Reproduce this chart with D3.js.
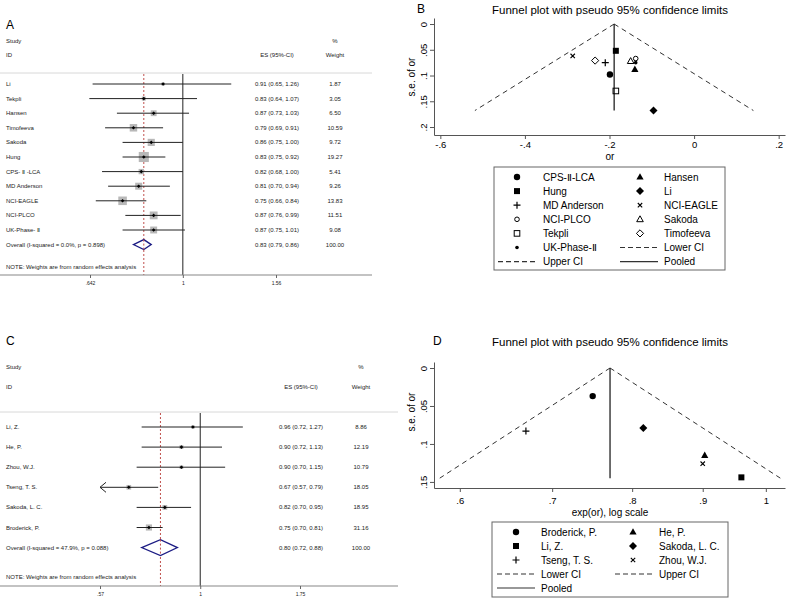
<!DOCTYPE html>
<html><head><meta charset="utf-8">
<script src="https://cdn.jsdelivr.net/npm/d3@7"></script>
<style>body{margin:0;background:#fff} svg{display:block;font-family:"Liberation Sans",Arial,sans-serif}</style>
</head><body><svg id="c" width="787" height="599"></svg>
<script>
// ---------- Panel A (forest) ----------
const studiesA = ["Li","Tekpli","Hansen","Timofeeva","Sakoda","Hung","CPS- Ⅱ -LCA","MD Anderson","NCI-EAGLE","NCI-PLCO","UK-Phase- Ⅱ"];
const esA = [0.91,0.83,0.87,0.79,0.86,0.83,0.82,0.81,0.75,0.87,0.87];
const loA = [0.65,0.64,0.73,0.69,0.75,0.75,0.68,0.70,0.66,0.76,0.75];
const hiA = [1.26,1.07,1.03,0.91,1.00,0.92,1.00,0.94,0.84,0.99,1.01];
const weightA = [1.87,3.05,6.50,10.59,9.72,19.27,5.41,9.26,13.83,11.51,9.08];
const overallA = [0.83,0.79,0.86];
const overallLabelA = "Overall  (I-squared = 0.0%, p = 0.898)";
const ticksA = [0.642,1,1.56];
const tickLabelsA = [".642","1","1.56"];

// ---------- Panel C (forest) ----------
const studiesC = ["Li, Z.","He, P.","Zhou, W.J.","Tseng, T. S.","Sakoda, L. C.","Broderick, P."];
const esC = [0.96,0.90,0.90,0.67,0.82,0.75];
const loC = [0.72,0.72,0.70,0.57,0.70,0.70];
const hiC = [1.27,1.13,1.15,0.79,0.95,0.81];
const weightC = [8.86,12.19,10.79,18.05,18.95,31.16];
const overallC = [0.80,0.72,0.88];
const overallLabelC = "Overall  (I-squared = 47.9%, p = 0.088)";
const ticksC = [0.57,1,1.75];
const tickLabelsC = [".57","1","1.75"];

// ---------- Panel B (funnel) ----------
const namesB = ["CPS-Ⅱ-LCA","Hansen","Hung","Li","MD Anderson","NCI-EAGLE","NCI-PLCO","Sakoda","Tekpli","Timofeeva","UK-Phase-Ⅱ"];
const symbolsB = ["circle","triangle","square","diamond","plus","cross","ocircle","otriangle","osquare","odiamond","dot"];
const orB = [-0.199,-0.140,-0.185,-0.096,-0.210,-0.287,-0.138,-0.150,-0.185,-0.234,-0.138];
const seB = [0.098,0.088,0.052,0.168,0.075,0.062,0.067,0.072,0.130,0.071,0.075];
const pooledB = -0.189, seMaxB = 0.168;
const xTicksB = [-0.6,-0.4,-0.2,0,0.2], xTickLabelsB = ["-.6","-.4","-.2","0",".2"];
const yTicksB = [0,0.05,0.1,0.15,0.2], yTickLabelsB = ["0",".05",".1",".15",".2"];

// ---------- Panel D (funnel) ----------
const namesD = ["Broderick, P.","He, P.","Li, Z.","Sakoda, L. C.","Tseng, T. S.","Zhou, W.J."];
const symbolsD = ["circle","triangle","square","diamond","plus","cross"];
const orD = [0.749,0.903,0.960,0.815,0.670,0.900];
const seD = [0.037,0.115,0.144,0.079,0.083,0.126];
const pooledD = 0.771, seMaxD = 0.145;
const xTicksD = [0.6,0.7,0.8,0.9,1], xTickLabelsD = [".6",".7",".8",".9","1"];
const yTicksD = [0,0.05,0.1,0.15], yTickLabelsD = ["0",".05",".1",".15"];

const svg = d3.select("#c");
const TXT = "#222";

function drawForest(o) {
  const g = svg.append("g");
  const x = d3.scaleLog().domain([o.ticks[0], o.ticks[2]]).range([o.xr[0], o.xr[1]]);
  const n = o.names.length;
  const ry = d3.scaleLinear().domain([0, 1]).range([o.row0, o.row0 + o.step]);
  g.append("text").attr("x",6).attr("y",o.letterY).attr("font-size",12).text(o.letter);
  const small = (t,xx,yy,anchor)=>g.append("text").attr("x",xx).attr("y",yy).attr("font-size",6)
      .attr("fill",TXT).attr("text-anchor",anchor||"start").text(t);
  small("Study",6,o.h1); small("ID",6,o.h2);
  small("%",o.wx,o.h1,"middle"); small("Weight",o.wx,o.h2,"middle");
  small("ES (95%-CI)",o.esx,o.h2,"middle");
  g.append("line").attr("x1",0).attr("x2",o.width).attr("y1",o.sep).attr("y2",o.sep)
    .attr("stroke","#d8d8d8").attr("stroke-width",1);
  g.append("line").attr("x1",x(1)).attr("x2",x(1)).attr("y1",o.sep+1).attr("y2",o.axisY)
    .attr("stroke","#222").attr("stroke-width",1);
  g.append("line").attr("x1",x(o.overall[0])).attr("x2",x(o.overall[0])).attr("y1",o.sep+1).attr("y2",o.axisY)
    .attr("stroke","#c0504d").attr("stroke-width",1).attr("stroke-dasharray","2,2");
  for (let i=0;i<n;i++){
    const yy = ry(i);
    small(o.names[i],6,yy+2);
    const side = o.k*Math.sqrt(o.w[i]);
    g.append("rect").attr("x",x(o.es[i])-side/2).attr("y",yy-side/2).attr("width",side).attr("height",side)
      .attr("fill","#b8b8b8");
    const clipped = o.lo[i] <= o.clip;
    const lo = clipped ? o.clip : o.lo[i];
    g.append("line").attr("x1",x(lo)).attr("x2",x(o.hi[i])).attr("y1",yy).attr("y2",yy)
      .attr("stroke","#222").attr("stroke-width",1);
    if (clipped) {
      const ax = x(o.clip);
      g.append("path").attr("d",`M${ax+6},${yy-5}L${ax},${yy}L${ax+6},${yy+5}`)
        .attr("fill","none").attr("stroke","#222").attr("stroke-width",1);
    }
    const cx = x(o.es[i]);
    g.append("path").attr("d",`M${cx},${yy-1.8}L${cx+1.8},${yy}L${cx},${yy+1.8}L${cx-1.8},${yy}Z`).attr("fill","#000");
    small(o.es[i].toFixed(2)+" ("+o.lo[i].toFixed(2)+", "+o.hi[i].toFixed(2)+")",o.esx,yy+2,"middle");
    small(o.w[i].toFixed(2),o.wx,yy+2,"middle");
  }
  const oy = ry(n);
  small(o.overallLabel,6,oy+2);
  g.append("path").attr("d",`M${x(o.overall[1])},${oy}L${x(o.overall[0])},${oy-o.dh}L${x(o.overall[2])},${oy}L${x(o.overall[0])},${oy+o.dh}Z`)
    .attr("fill","#fff").attr("stroke","#1c1c84").attr("stroke-width",1.3);
  g.append("line").attr("x1",x(o.overall[0])).attr("x2",x(o.overall[0])).attr("y1",oy-o.dh).attr("y2",oy+o.dh)
    .attr("stroke","#c0504d").attr("stroke-width",1).attr("stroke-dasharray","2,2");
  small(o.overall[0].toFixed(2)+" ("+o.overall[1].toFixed(2)+", "+o.overall[2].toFixed(2)+")",o.esx,oy+2,"middle");
  small("100.00",o.wx,oy+2,"middle");
  small("NOTE: Weights are from random effects analysis",6,o.noteY);
  g.append("line").attr("x1",0).attr("x2",o.width).attr("y1",o.axisY).attr("y2",o.axisY)
    .attr("stroke","#888").attr("stroke-width",1.2);
  const ax = d3.axisBottom(x).tickValues(o.ticks).tickFormat((d,i)=>o.tickLabels[i]).tickSize(3).tickSizeOuter(0).tickPadding(3);
  const ag = g.append("g").attr("transform",`translate(0,${o.axisY})`).call(ax);
  ag.select(".domain").remove();
  ag.selectAll(".tick line").attr("stroke","#666");
  ag.selectAll(".tick text").attr("font-size",5).attr("fill",TXT).attr("font-family","Liberation Sans, Arial, sans-serif");
}

drawForest({letter:"A",letterY:29,names:studiesA,es:esA,lo:loA,hi:hiA,w:weightA,overall:overallA,
  overallLabel:overallLabelA,ticks:ticksA,tickLabels:tickLabelsA,xr:[90,276],width:372,clip:0.45,
  row0:84,step:14.6,h1:43,h2:57,wx:335,esx:277,sep:73,axisY:275,noteY:269,k:2.3,dh:5});
drawForest({letter:"C",letterY:345,names:studiesC,es:esC,lo:loC,hi:hiC,w:weightC,overall:overallC,
  overallLabel:overallLabelC,ticks:ticksC,tickLabels:tickLabelsC,xr:[100,300],width:398,clip:0.57,
  row0:427,step:20.1,h1:369,h2:389,wx:361,esx:301,sep:412,axisY:586,noteY:579,k:1.1,dh:8});

function sym(g,type,cx,cy){
  const k = "#000";
  switch(type){
    case "circle": g.append("circle").attr("cx",cx).attr("cy",cy).attr("r",3.2).attr("fill",k); break;
    case "dot": g.append("circle").attr("cx",cx).attr("cy",cy).attr("r",1.8).attr("fill",k); break;
    case "ocircle": g.append("circle").attr("cx",cx).attr("cy",cy).attr("r",2.3).attr("fill","none").attr("stroke",k).attr("stroke-width",1); break;
    case "square": g.append("rect").attr("x",cx-3).attr("y",cy-3).attr("width",6).attr("height",6).attr("fill",k); break;
    case "osquare": g.append("rect").attr("x",cx-2.8).attr("y",cy-2.8).attr("width",5.6).attr("height",5.6).attr("fill","none").attr("stroke",k).attr("stroke-width",1); break;
    case "triangle": g.append("path").attr("d",`M${cx},${cy-3.8}L${cx+3.6},${cy+2.6}L${cx-3.6},${cy+2.6}Z`).attr("fill",k); break;
    case "otriangle": g.append("path").attr("d",`M${cx},${cy-3.5}L${cx+3.3},${cy+2.4}L${cx-3.3},${cy+2.4}Z`).attr("fill","none").attr("stroke",k).attr("stroke-width",1); break;
    case "diamond": g.append("path").attr("d",`M${cx},${cy-4}L${cx+4},${cy}L${cx},${cy+4}L${cx-4},${cy}Z`).attr("fill",k); break;
    case "odiamond": g.append("path").attr("d",`M${cx},${cy-3.6}L${cx+3.6},${cy}L${cx},${cy+3.6}L${cx-3.6},${cy}Z`).attr("fill","none").attr("stroke",k).attr("stroke-width",1); break;
    case "plus": g.append("path").attr("d",`M${cx-3.5},${cy}H${cx+3.5}M${cx},${cy-3.5}V${cy+3.5}`).attr("stroke",k).attr("stroke-width",1.2); break;
    case "cross": g.append("path").attr("d",`M${cx-2.2},${cy-2.2}L${cx+2.2},${cy+2.2}M${cx-2.2},${cy+2.2}L${cx+2.2},${cy-2.2}`).attr("stroke",k).attr("stroke-width",1.1); break;
  }
}

function drawFunnel(o){
  const g = svg.append("g");
  const x = (o.log ? d3.scaleLog() : d3.scaleLinear()).domain(o.xDom).range([434,785]);
  const y = d3.scaleLinear().domain(o.yDom).range(o.yRange);
  g.append("text").attr("x",o.letterX).attr("y",o.letterY).attr("font-size",12).text(o.letter);
  g.append("text").attr("x",610).attr("y",o.titleY).attr("font-size",11.5).attr("text-anchor","middle")
    .text("Funnel plot with pseudo 95% confidence limits");
  const xa = d3.axisBottom(x).tickValues(o.xTicks).tickFormat((d,i)=>o.xTickLabels[i]).tickSize(4).tickSizeOuter(0).tickPadding(o.xPad);
  const xg = g.append("g").attr("transform",`translate(0,${o.yRange[1]})`).call(xa);
  const ya = d3.axisLeft(y).tickValues(o.yTicks).tickFormat((d,i)=>o.yTickLabels[i]).tickSize(4).tickSizeOuter(0);
  const yg = g.append("g").attr("transform",`translate(434,0)`).call(ya);
  [xg,yg].forEach(a=>{
    a.select(".domain").attr("stroke","#555");
    a.selectAll(".tick line").attr("stroke","#555");
    a.selectAll(".tick text").attr("font-size",9.5).attr("fill","#000").attr("font-family","Liberation Sans, Arial, sans-serif");
  });
  yg.selectAll(".tick text").attr("transform","rotate(-90)").attr("x",0).attr("y",-7).attr("dy",0).attr("text-anchor","middle");
  g.append("text").attr("x",610).attr("y",o.xTitleY).attr("font-size",10).attr("text-anchor","middle").text(o.xTitle);
  g.append("text").attr("transform",`translate(415,${o.yTitleY}) rotate(-90)`).attr("font-size",10).attr("text-anchor","middle").text("s.e. of or");
  const lowAt = s => o.log ? o.pooled*Math.exp(-1.96*s) : o.pooled-1.96*s;
  const upAt = s => o.log ? o.pooled*Math.exp(1.96*s) : o.pooled+1.96*s;
  const ln = (x1,y1,x2,y2)=>g.append("line").attr("x1",x1).attr("y1",y1).attr("x2",x2).attr("y2",y2).attr("stroke","#333").attr("stroke-width",1);
  ln(x(o.pooled),y(0),x(lowAt(o.seMax)),y(o.seMax)).attr("stroke-dasharray","5,4");
  ln(x(o.pooled),y(0),x(upAt(o.seMax)),y(o.seMax)).attr("stroke-dasharray","5,4");
  ln(x(o.pooled),y(0),x(o.pooled),y(o.seMax)).attr("stroke","#222").attr("stroke-width",1.3);
  o.vals.forEach((v,i)=>sym(g,o.symbols[i],x(v),y(o.se[i])));
  const L = o.leg;
  g.append("rect").attr("x",L.x0).attr("y",L.y0).attr("width",L.x1-L.x0).attr("height",L.y1-L.y0)
    .attr("fill","none").attr("stroke","#666").attr("stroke-width",1);
  const items = o.names.map((nm,i)=>({name:nm,type:o.symbols[i]}))
    .concat([{name:"Lower CI",line:"5,3"},{name:"Upper CI",line:"5,3"},{name:"Pooled",line:null}]);
  items.forEach((it,i)=>{
    const r = Math.floor(i/2), c = i%2;
    const yy = L.row0 + r*L.step;
    if (it.type) sym(g,it.type,L.sx[c],yy);
    else {
      const l = g.append("line").attr("x1",L.lx[c][0]).attr("x2",L.lx[c][1]).attr("y1",yy).attr("y2",yy)
        .attr("stroke","#333").attr("stroke-width",1.2);
      if (it.line) l.attr("stroke-dasharray",it.line);
    }
    g.append("text").attr("x",L.tx[c]).attr("y",yy+3.6).attr("font-size",10).text(it.name);
  });
}

drawFunnel({letter:"B",letterX:417,letterY:13,titleY:14,log:false,xDom:[-0.615,0.215],yDom:[-0.0117,0.2155],yRange:[18,135],
  xTicks:xTicksB,xTickLabels:xTickLabelsB,yTicks:yTicksB,yTickLabels:yTickLabelsB,xPad:2.6,
  xTitle:"or",xTitleY:160,yTitleY:77,pooled:pooledB,seMax:seMaxB,vals:orB,se:seB,names:namesB,symbols:symbolsB,
  leg:{x0:494,x1:725,y0:167,y1:270,row0:177,step:14.1,sx:[517,640],tx:[543,664],lx:[[498,537],[620,658]]}});
drawFunnel({letter:"D",letterX:433,letterY:345,titleY:346,log:true,xDom:[0.5747,1.0325],yDom:[-0.0079,0.158],yRange:[362,488],
  xTicks:xTicksD,xTickLabels:xTickLabelsD,yTicks:yTicksD,yTickLabels:yTickLabelsD,xPad:5,
  xTitle:"exp(or), log scale",xTitleY:515.5,yTitleY:412,pooled:pooledD,seMax:seMaxD,vals:orD,se:seD,names:namesD,symbols:symbolsD,
  leg:{x0:492,x1:728,y0:522,y1:597,row0:532,step:14,sx:[516,633],tx:[541,659],lx:[[497,535],[615,653]]}});
</script></body></html>
